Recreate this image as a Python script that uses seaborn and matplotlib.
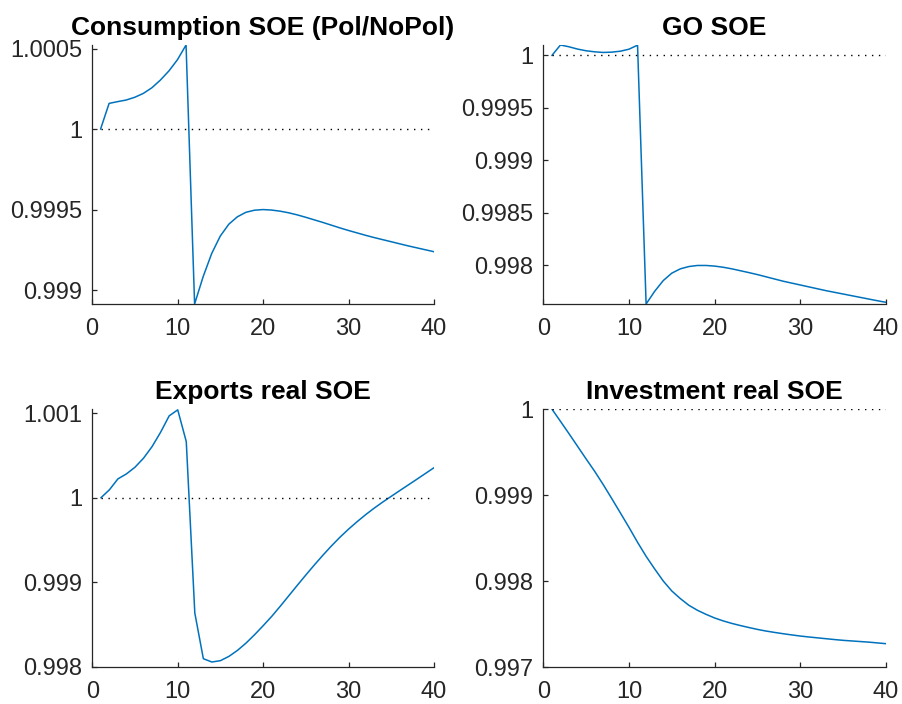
import numpy as np
import pandas as pd
import matplotlib
matplotlib.use("Agg")
import matplotlib.pyplot as plt
import seaborn as sns
from matplotlib.ticker import FuncFormatter

t = list(range(1, 41))

consumption = [1.0, 1.00016, 1.000171, 1.000181, 1.000198, 1.000222, 1.000257, 1.000305, 1.000362, 1.000432,
               1.000523, 0.998913, 0.999083, 0.999227, 0.999335, 0.999409, 0.999455, 0.999483, 0.999496, 0.9995,
               0.999497, 0.99949, 0.99948, 0.999467, 0.999452, 0.999436, 0.99942, 0.999403, 0.999386, 0.99937,
               0.999355, 0.99934, 0.999326, 0.999313, 0.9993, 0.999287, 0.999274, 0.999262, 0.99925, 0.999238]

go = [1.0, 1.0001, 1.000083, 1.000061, 1.000045, 1.000035, 1.000029, 1.000032, 1.000041, 1.00006,
      1.0000985, 0.997633, 0.997754, 0.997856, 0.997927, 0.997968, 0.99799, 0.998, 0.998, 0.997994,
      0.997983, 0.997968, 0.99795, 0.997932, 0.997913, 0.997892, 0.997871, 0.99785, 0.997832, 0.997814,
      0.997796, 0.997778, 0.99776, 0.997744, 0.997728, 0.997712, 0.997696, 0.99768, 0.997664, 0.997649]

exports = [1.0, 1.0000945, 1.000224, 1.000283, 1.000362, 1.000469, 1.000606, 1.000776, 1.000969, 1.00104,
           1.000665, 0.998638, 0.998098, 0.998059, 0.998075, 0.998126, 0.998197, 0.998283, 0.998382, 0.998488,
           0.998598, 0.998718, 0.998842, 0.998966, 0.999088, 0.999207, 0.999322, 0.999432, 0.999535, 0.99963,
           0.999718, 0.999801, 0.999878, 0.99995, 1.000018, 1.000086, 1.000153, 1.00022, 1.000288, 1.000356]

investment = [1.0, 0.999857, 0.999713, 0.999566, 0.999419, 0.999275, 0.99912, 0.998957, 0.998791, 0.998624,
              0.99845, 0.998287, 0.99814, 0.998, 0.997884, 0.997795, 0.997717, 0.997659, 0.997612, 0.99757,
              0.997536, 0.997507, 0.997482, 0.997459, 0.997437, 0.997418, 0.997402, 0.997387, 0.997373, 0.99736,
              0.997349, 0.997339, 0.997329, 0.997319, 0.99731, 0.997303, 0.997296, 0.997289, 0.99728, 0.997271]

titles = ["Consumption SOE (Pol/NoPol)", "GO SOE", "Exports real SOE", "Investment real SOE"]
series = [consumption, go, exports, investment]
yticks = [[0.999, 0.9995, 1.0, 1.0005],
          [0.998, 0.9985, 0.999, 0.9995, 1.0],
          [0.998, 0.999, 1.0, 1.001],
          [0.997, 0.998, 0.999, 1.0]]
ylims = [(0.998913, 1.000523), (0.997633, 1.0001), (0.998, 1.00105), (0.997, 1.0)]
xticks = [0, 10, 20, 30, 40]

sns.set_style("ticks")
plt.rcParams['font.family'] = ['Liberation Sans', 'DejaVu Sans']

fig = plt.figure(figsize=(9.02, 7.04), dpi=100)
W, H = 902, 704
boxes = [(92, 45, 434, 304), (543.3, 45, 886, 304), (92.3, 409, 434, 667), (543.3, 409, 886, 667)]

dark = "#262626"
fmt = FuncFormatter(lambda v, p: (f"{v:.4f}".rstrip('0').rstrip('.')))

for i in range(4):
    l, tp, r, b = boxes[i]
    ax = fig.add_axes([l / W, 1 - b / H, (r - l) / W, (b - tp) / H])
    df = pd.DataFrame({"t": t, "v": series[i]})
    sns.lineplot(data=df, x="t", y="v", ax=ax, color="#0072BD", linewidth=1.1)
    ax.plot(t, [1.0] * len(t), color="black", linestyle=(0, (1, 4)), linewidth=1.0)
    ax.set_xlim(0, 40)
    ax.set_ylim(*ylims[i])
    ax.set_xticks(xticks)
    ax.set_yticks(yticks[i])
    ax.yaxis.set_major_formatter(fmt)
    ax.set_xlabel("")
    ax.set_ylabel("")
    ax.set_title(titles[i], fontsize=19, fontweight="bold", pad=7, color="black")
    for s in ["top", "right"]:
        ax.spines[s].set_visible(False)
    for s in ["left", "bottom"]:
        ax.spines[s].set_color(dark)
        ax.spines[s].set_linewidth(0.9)
    ax.tick_params(direction="in", length=3.5, width=0.9, colors=dark, labelsize=17,
                   labelcolor=dark)
    ax.tick_params(axis="x", pad=10)
    ax.tick_params(axis="y", pad=7)

fig.savefig("out.png", dpi=100)
